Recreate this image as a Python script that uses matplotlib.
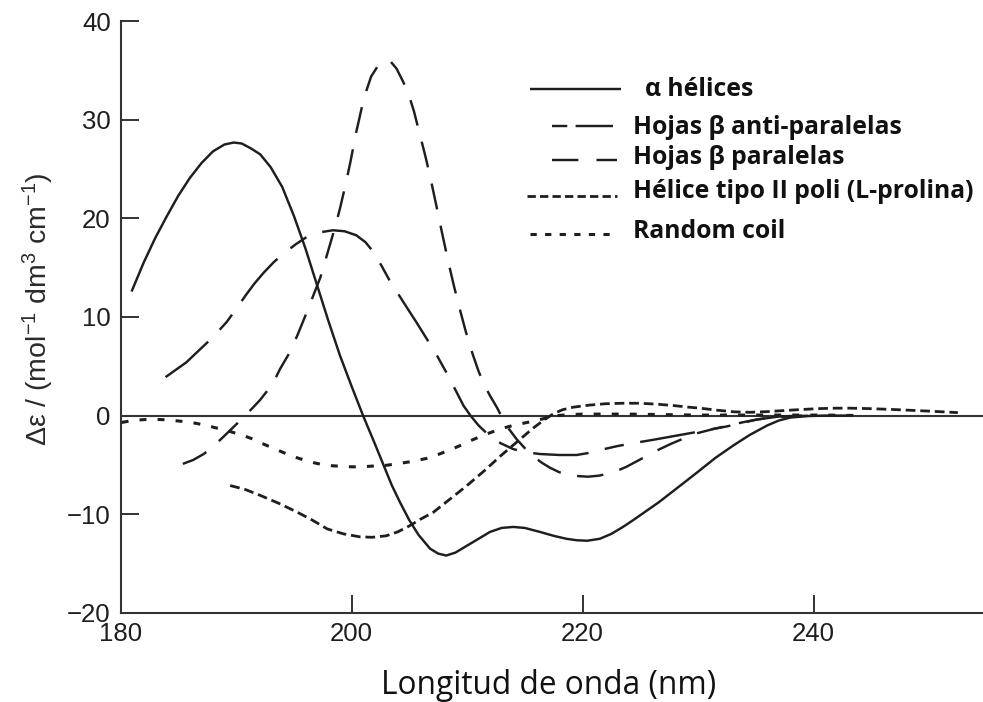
import numpy as np
import matplotlib
matplotlib.use('Agg')
import matplotlib.pyplot as plt
from matplotlib.lines import Line2D

plt.rcParams['font.family'] = ['Liberation Sans', 'DejaVu Sans']
plt.rcParams['mathtext.default'] = 'regular'
plt.rcParams['lines.scale_dashes'] = False

# Espectros de dicroismo circular (longitud de onda en nm, delta epsilon)
x_alfa = [181, 182, 183, 184, 185, 186, 187, 188, 189, 189.8, 190.5, 191.3,
          192.1, 193, 194, 195, 196, 197, 198, 199, 200, 201, 202, 202.8,
          203.5, 204.2, 205, 205.8, 206.8, 207.5, 208.2, 209, 210, 211, 212,
          213, 214, 215, 216.3, 217.5, 218.6, 219.5, 220.4, 221.5, 222.5,
          223.5, 224.4, 225.5, 226.6, 227.7, 228.8, 230, 231.5, 233.1, 234.5,
          236, 237, 238, 239.5, 241, 243]
y_alfa = [12.7, 15.5, 18.0, 20.2, 22.3, 24.1, 25.6, 26.8, 27.5, 27.7, 27.6, 27.1,
          26.5, 25.2, 23.2, 20.3, 17.0, 13.3, 9.6, 6.1, 3.0, 0, -2.8, -5.1,
          -7.1, -8.8, -10.6, -12.1, -13.5, -14.0, -14.2, -13.9, -13.2, -12.5, -11.8,
          -11.4, -11.3, -11.4, -11.8, -12.2, -12.5, -12.65, -12.7, -12.5, -12.0,
          -11.3, -10.6, -9.7, -8.8, -7.8, -6.8, -5.7, -4.3, -3.0, -1.95,
          -1.0, -0.5, -0.2, -0.05, 0, 0]

x_anti = [183.9, 185.7, 187.5, 188.5, 189.2, 190, 190.9, 191.6, 192.4, 193.3,
          194.3, 195.2, 196.1, 197.3, 198.4, 199.4, 200.4, 201.2, 201.9, 202.6,
          203.3, 204.5, 205.6, 206.4, 207.3, 208.2, 209, 209.7, 210.3, 211,
          211.8, 212.9, 214, 215, 216.3, 218, 219.5, 220.5, 221.5, 223,
          224.4, 226.4, 228.3, 230.2, 232.5, 235.1, 237, 239]
y_anti = [3.9, 5.4, 7.4, 8.6, 9.5, 10.8, 12.3, 13.4, 14.5, 15.6,
          16.6, 17.4, 18.1, 18.6, 18.8, 18.7, 18.3, 17.6, 16.6, 15.2,
          13.7, 11.5, 9.5, 8.0, 6.3, 4.4, 2.6, 1.0, 0, -1.0,
          -1.9, -2.8, -3.4, -3.7, -3.9, -4.0, -4.0, -3.8, -3.5, -3.1,
          -2.8, -2.4, -2.0, -1.6, -1.1, -0.4, -0.1, 0]

x_par = [185.4, 186.3, 187.2, 188, 188.6, 189.4, 190.1, 190.8, 191.5, 192.1,
         192.7, 193.3, 193.8, 194.6, 195.3, 196.1, 196.7, 197.3, 198.1, 198.6,
         199.0, 199.5, 199.9, 200.4, 200.9, 201.3, 201.7, 202.3, 202.9, 203.4,
         203.9, 204.5, 205, 205.4, 205.9, 206.4, 206.8, 207.4, 207.9, 208.4,
         208.9, 209.4, 209.9, 210.5, 211, 211.5, 212, 212.6, 213.4, 214.3,
         215, 215.8, 216.5, 217.2, 218, 218.9, 219.7, 220.5, 221.4, 222.2,
         223, 223.8, 224.6, 225.4, 226.7, 227.6, 228.6, 229.9, 231.2, 232.5,
         233.8, 235.1, 236.3, 237.5, 240]
y_par = [-4.9, -4.5, -3.9, -3.2, -2.5, -1.6, -0.8, 0, 0.85, 1.6,
         2.5, 3.5, 4.7, 6.3, 8.1, 10.4, 12.2, 14.0, 17.2, 19.2,
         21.0, 23.5, 25.7, 28.7, 31.3, 33.0, 34.4, 35.5, 36.0, 35.9,
         35.2, 33.8, 32.4, 30.9, 28.6, 26.3, 24.3, 21.0, 18.2, 15.5,
         13.0, 10.7, 8.5, 6.2, 4.5, 3.1, 2.0, 0.8, -1.0, -2.4,
         -3.3, -4.2, -4.8, -5.3, -5.75, -6.0, -6.15, -6.2, -6.1, -5.9,
         -5.6, -5.2, -4.7, -4.2, -3.4, -2.9, -2.4, -1.8, -1.4, -1.05,
         -0.7, -0.4, -0.2, -0.1, 0]

x_ppii = [189.5, 190.8, 192.1, 193.7, 195.3, 196.6, 197.9, 199.3, 200.7, 201.8,
          203.0, 204, 205, 206, 207.1, 208.5, 210, 211.5, 212.9, 214.3,
          215.7, 216.6, 217.5, 218.3, 219.2, 220.5, 222, 223.5, 225, 226.5,
          228, 229.2, 230.2, 231.6, 233.1, 234.5, 236, 238, 240.3, 242,
          243.2, 245, 247.2, 250, 252.5]
y_ppii = [-7.1, -7.5, -8.1, -8.9, -9.8, -10.6, -11.5, -12.0, -12.3, -12.35,
          -12.2, -11.8, -11.2, -10.5, -9.8, -8.5, -7.1, -5.6, -4.1, -2.7,
          -1.3, -0.5, 0.2, 0.6, 0.85, 1.05, 1.2, 1.25, 1.25, 1.15,
          1.0, 0.85, 0.75, 0.55, 0.38, 0.33, 0.4, 0.55, 0.7, 0.75,
          0.75, 0.7, 0.6, 0.45, 0.3]

x_rc = [180.1, 180.8, 181.5, 182.5, 183.4, 184.2, 185, 185.8, 186.6, 187.6,
        188.6, 189.3, 190, 190.8, 191.5, 192.2, 193, 193.7, 194.4, 195.2,
        196, 196.8, 197.6, 198.4, 199.2, 200, 200.7, 201.5, 202.2, 203,
        203.6, 205, 206.5, 207.5, 208.5, 209.3, 210, 211.4, 212.9, 214,
        215.2, 216.5, 217.8, 219, 220, 224, 230, 236, 241, 244]
y_rc = [-0.7, -0.55, -0.45, -0.38, -0.4, -0.45, -0.55, -0.65, -0.8, -1.05,
        -1.35, -1.55, -1.8, -2.1, -2.4, -2.8, -3.2, -3.55, -3.9, -4.25,
        -4.55, -4.8, -5.0, -5.1, -5.15, -5.2, -5.2, -5.15, -5.1, -5.05,
        -4.95, -4.7, -4.35, -3.95, -3.5, -3.1, -2.7, -2.0, -1.35, -1.0,
        -0.7, -0.35, 0, 0.1, 0.15, 0.15, 0.05, 0.05, 0.05, 0]

etiquetas = ['α hélices', 'Hojas β anti-paralelas', 'Hojas β paralelas',
             'Hélice tipo II poli (L-prolina)', 'Random coil']

W, H = 983, 702
tinta = '#1e1e1e'

fig = plt.figure(figsize=(W / 100, H / 100), dpi=100)
ax = fig.add_axes([120.5 / W, 1 - 612.7 / H, (W - 120.5) / W, (612.7 - 21.3) / H])

estilos = [
    dict(ls='-', lw=1.75),
    dict(ls=(0, (40, 12, 14, 12)), lw=1.75),
    dict(ls=(0, (19, 12)), lw=1.75),
    dict(ls=(0, (7, 3.5)), lw=2.0),
    dict(ls=(0, (5, 8)), lw=2.2),
]
series = [(x_alfa, y_alfa), (x_anti, y_anti), (x_par, y_par),
          (x_ppii, y_ppii), (x_rc, y_rc)]
for (xs, ys), st in zip(series, estilos):
    ax.plot(xs, ys, color=tinta, solid_joinstyle='round', **st)

ax.axhline(0, color='#333333', lw=1.5, zorder=1)

ax.set_xlim(180, 180 + (W - 120.5) / 231 * 20)
ax.set_ylim(-20, 40)
ax.set_xticks([180, 200, 220, 240])
ax.set_yticks([-20, -10, 0, 10, 20, 30, 40])
ax.set_yticklabels(['\u221220', '\u221210', '0', '10', '20', '30', '40'])
for s in ['top', 'right']:
    ax.spines[s].set_visible(False)
for s in ['left', 'bottom']:
    ax.spines[s].set_linewidth(1.5)
    ax.spines[s].set_color('#333333')
ax.tick_params(direction='in', length=13, width=1.4, pad=7,
               labelsize=18.5, color='#333333', labelcolor=tinta)

ax.set_ylabel('Δε / (mol$^{\u22121}$ dm$^{3}$ cm$^{\u22121}$)', fontsize=20.5, color='#2a2a2a')
ax.yaxis.set_label_coords((56 - 120.5) / (W - 120.5), 0.513)

fig.text(549 / W, 1 - 686 / H, 'Longitud de onda (nm)', ha='center', va='center',
         fontsize=22.8, family=['Open Sans', 'DejaVu Sans'], color='#111111')

# leyenda dibujada a mano: muestra de linea y texto por fila
leyenda_filas = [
    (530, 621, 89, 645, 89, (0, (1, 0))),
    (552, 613, 126, 633, 128, (0, (11, 6, 27, 6))),
    (552, 617, 160, 633, 158, (0, (19, 13))),
    (527, 617, 196, 633, 192, (0, (6, 3))),
    (530, 613, 234, 633, 232, (0, (4.5, 6))),
]
for (x0, x1, yl, xt, yt, ls), lab, st in zip(leyenda_filas, etiquetas, estilos):
    fig.add_artist(Line2D([x0 / W, x1 / W], [1 - yl / H, 1 - yl / H],
                          transform=fig.transFigure, color=tinta, lw=st['lw'], ls=ls))
    fig.text(xt / W, 1 - yt / H, lab, ha='left', va='center', fontsize=17.8,
             fontweight='bold', family=['Open Sans', 'DejaVu Sans'], color='#111111')

fig.savefig('out.png', dpi=100, facecolor='white')
